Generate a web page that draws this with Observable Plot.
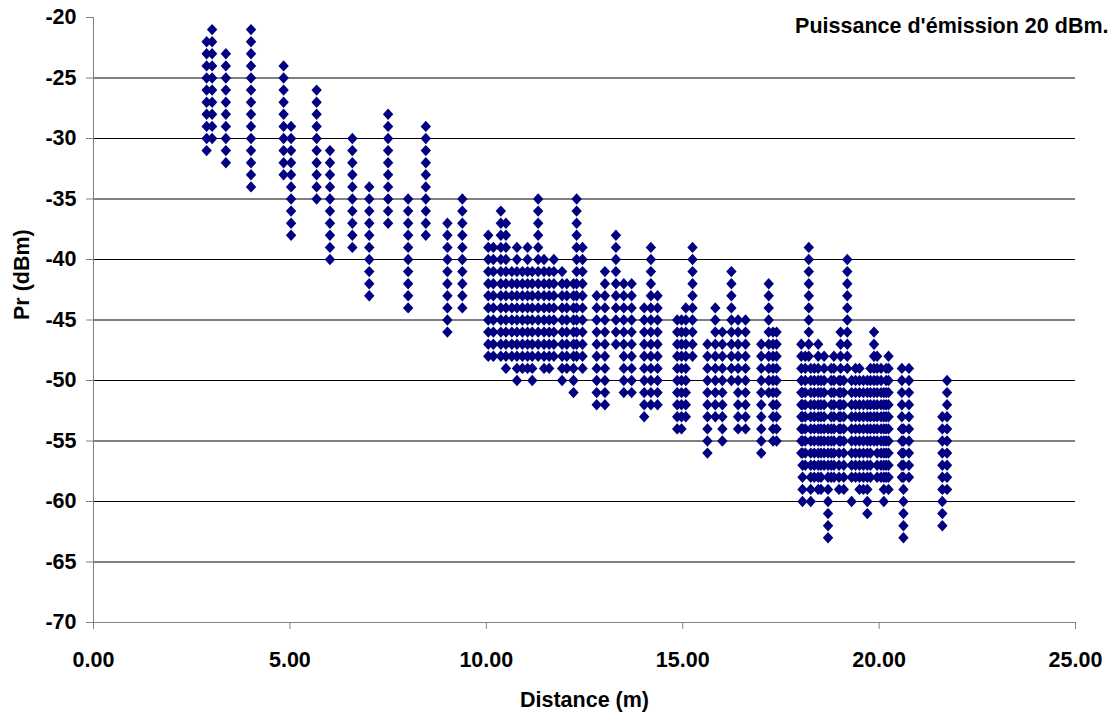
<!DOCTYPE html>
<html><head><meta charset="utf-8">
<script src="https://cdn.jsdelivr.net/npm/d3@7"></script>
<script src="https://cdn.jsdelivr.net/npm/@observablehq/plot@0.6"></script>
<style>html,body{margin:0;padding:0;background:#fff;}</style>
</head><body><div id="chart"></div>
<script>
// Distance (m) of each measurement column
const distances = [
  2.88, 3.02, 3.37, 4.01, 4.84, 5.03, 5.68, 6.02, 6.59, 7.02, 7.50, 8.01, 8.46, 9.01, 9.39,
  10.05, 10.18, 10.37, 10.50, 10.65, 10.78, 10.92, 11.05, 11.17, 11.32, 11.47, 11.60, 11.72, 11.93, 12.05, 12.22, 12.30, 12.45,
  12.81, 13.02, 13.30, 13.50, 13.70, 14.02, 14.19, 14.36,
  14.86, 14.97, 15.08, 15.25,
  15.63, 15.83, 16.01, 16.24, 16.41, 16.60,
  17.00, 17.19, 17.30, 17.39,
  18.02, 18.05, 18.21, 18.26, 18.45, 18.60, 18.70, 18.85, 18.98, 19.02, 19.19, 19.30, 19.50, 19.70, 19.87, 19.95, 20.05, 20.12, 20.24, 20.58, 20.62, 20.76,
  21.61, 21.73,
  18.12, 18.35, 18.52, 18.78, 19.10, 19.40, 19.60, 19.78, 20.18
];
// Received power levels (dBm) read in each column
const levels = [
  [-22,-23,-24,-25,-26,-27,-28,-29,-30,-31],
  [-21,-22,-23,-24,-25,-26,-27,-28,-29,-30],
  [-23,-24,-25,-26,-27,-28,-29,-30,-31,-32],
  [-21,-22,-23,-24,-25,-26,-27,-28,-29,-30,-31,-32,-33,-34],
  [-24,-25,-26,-27,-28,-29,-30,-31,-32,-33],
  [-29,-30,-31,-32,-33,-34,-35,-36,-37,-38],
  [-26,-27,-28,-29,-30,-31,-32,-33,-34,-35],
  [-31,-32,-33,-34,-35,-36,-37,-38,-39,-40],
  [-30,-31,-32,-33,-34,-35,-36,-37,-38,-39],
  [-34,-35,-36,-37,-38,-39,-40,-41,-42,-43],
  [-28,-29,-30,-31,-32,-33,-34,-35,-36,-37],
  [-35,-36,-37,-38,-39,-40,-41,-42,-43,-44],
  [-29,-30,-31,-32,-33,-34,-35,-36,-37,-38],
  [-37,-38,-39,-40,-41,-42,-43,-44,-45,-46],
  [-35,-36,-37,-38,-39,-40,-41,-42,-43,-44],
  [-38,-39,-40,-41,-42,-43,-44,-45,-46,-47,-48],
  [-39,-40,-41,-42,-43,-44,-45,-46,-47,-48],
  [-36,-37,-38,-39,-40,-41,-42,-43,-44,-45,-46,-47,-48],
  [-37,-38,-39,-40,-41,-42,-43,-44,-45,-46,-47,-48,-49],
  [-41,-42,-43,-44,-45,-46,-47,-48],
  [-39,-40,-41,-42,-43,-44,-45,-46,-47,-48,-49,-50],
  [-41,-42,-43,-44,-45,-46,-47,-48,-49],
  [-39,-40,-41,-42,-43,-44,-45,-46,-47,-48,-49],
  [-41,-42,-43,-44,-45,-46,-47,-48,-49,-50],
  [-35,-36,-37,-38,-39,-40,-41,-42,-43,-44,-45,-46,-47,-48],
  [-40,-41,-42,-43,-44,-45,-46,-47,-48,-49],
  [-41,-42,-43,-44,-45,-46,-47,-48,-49],
  [-40,-41,-42,-43,-44,-45,-46,-47,-48],
  [-41,-42,-43,-44,-45,-46,-47,-48,-49,-50],
  [-42,-43,-44,-45,-46,-47,-48,-49],
  [-42,-43,-44,-45,-46,-47,-48,-49,-50,-51],
  [-35,-36,-37,-38,-39,-40,-41,-42,-43,-44,-45,-46,-47,-48],
  [-39,-40,-41,-42,-43,-44,-45,-46,-47,-48,-49],
  [-43,-44,-45,-46,-47,-48,-49,-50,-51,-52],
  [-41,-42,-43,-44,-45,-46,-47,-48,-49,-50,-51,-52],
  [-38,-39,-40,-41,-42,-43,-44,-45,-46,-47],
  [-42,-43,-44,-45,-46,-47,-48,-49,-50,-51],
  [-42,-43,-44,-45,-46,-47,-48,-49,-50,-51],
  [-44,-45,-46,-47,-48,-49,-50,-51,-52,-53],
  [-39,-40,-41,-42,-43,-44,-45,-46,-47,-48,-49,-50,-51,-52],
  [-43,-44,-45,-46,-47,-48,-49,-50,-51,-52],
  [-45,-46,-47,-48,-49,-50,-51,-52,-53,-54],
  [-45,-46,-47,-48,-49,-50,-51,-52,-53,-54],
  [-44,-45,-46,-47,-48,-49,-50,-51,-52,-53],
  [-39,-40,-41,-42,-43,-44,-45,-46,-47,-48],
  [-47,-48,-49,-50,-51,-52,-53,-54,-55,-56],
  [-44,-45,-46,-47,-48,-49,-50,-51,-52,-53],
  [-46,-47,-48,-49,-50,-51,-52,-53,-54,-55],
  [-41,-42,-43,-44,-45,-46,-47,-48,-49,-50],
  [-45,-46,-47,-48,-49,-50,-51,-52,-53,-54],
  [-45,-46,-47,-48,-49,-50,-51,-52,-53,-54],
  [-47,-48,-49,-50,-51,-52,-53,-54,-55,-56],
  [-42,-43,-44,-45,-46,-47,-48,-49,-50,-51],
  [-46,-47,-48,-49,-50,-51,-52,-53,-54,-55],
  [-46,-47,-48,-49,-50,-51,-52,-53,-54,-55],
  [-47,-48,-49,-50,-51,-52,-53,-54,-55,-56],
  [-51,-52,-53,-54,-55,-56,-57,-58,-59,-60],
  [-39,-40,-41,-42,-43,-44,-45,-46,-47,-48],
  [-49,-50,-51,-52,-53,-54,-55,-56,-57,-58,-59,-60],
  [-47,-48,-49,-50,-51,-52,-53,-54,-55,-56,-57,-58,-59],
  [-48,-49,-50,-51,-52,-53,-54,-55,-56,-57],
  [-54,-55,-56,-57,-58,-59,-60,-61,-62,-63],
  [-48,-49,-50,-51,-52,-53,-54,-55,-56,-57,-58],
  [-50,-51,-52,-53,-54,-55,-56,-57,-58,-59],
  [-46,-47,-48,-49,-50,-51,-52,-53,-54,-55],
  [-40,-41,-42,-43,-44,-45,-46,-47,-48,-49],
  [-50,-51,-52,-53,-54,-55,-56,-57,-58,-60],
  [-49,-50,-51,-52,-53,-54,-55,-56,-57,-58,-59],
  [-50,-51,-52,-53,-54,-55,-56,-57,-58,-59,-60,-61],
  [-46,-47,-48,-49,-50,-51,-52,-53,-54,-55],
  [-48,-49,-50,-51,-52,-53,-54,-55,-56,-57,-58],
  [-49,-50,-51,-52,-53,-54,-55,-56,-57,-58],
  [-51,-52,-53,-54,-55,-56,-57,-58,-59,-60],
  [-48,-49,-50,-51,-52,-53,-54,-55,-56,-57,-58,-59],
  [-49,-50,-51,-52,-53,-54,-55,-56,-57,-58],
  [-54,-55,-56,-57,-58,-59,-60,-61,-62,-63],
  [-49,-50,-51,-52,-53,-54,-55,-56,-57,-58],
  [-53,-54,-55,-56,-57,-58,-59,-60,-61,-62],
  [-50,-51,-52,-53,-54,-55,-56,-57,-58,-59],
  [-48,-49,-50,-51,-52,-53,-54,-55,-56,-57],
  [-49,-50,-51,-52,-53,-54,-55,-56,-57,-58],
  [-50,-51,-52,-53,-54,-55,-56,-57,-58,-59],
  [-49,-50,-51,-52,-53,-54,-55,-56,-57,-58],
  [-50,-51,-52,-53,-54,-55,-56,-57,-58,-59],
  [-49,-50,-51,-52,-53,-54,-55,-56,-57,-58],
  [-50,-51,-52,-53,-54,-55,-56,-57,-58,-59],
  [-49,-50,-51,-52,-53,-54,-55,-56,-57,-58],
  [-49,-50,-51,-52,-53,-54,-55,-56,-57,-58]
];
const yTicks = [-20, -25, -30, -35, -40, -45, -50, -55, -60, -65, -70];
const gridLevels = [-25, -30, -35, -40, -45, -50, -55, -60, -65];
const xTicks = [0, 5, 10, 15, 20, 25];
const xTitle = "Distance (m)";
const yTitle = "Pr (dBm)";
const note = "Puissance d'émission 20 dBm.";

const points = [];
distances.forEach((x, i) => levels[i].forEach(y => points.push({x, y})));

const diamond = {
  draw(context, size) {
    const r = Math.sqrt(size / Math.PI);
    const w = r, h = r * 1.1;
    context.moveTo(0, -h);
    context.lineTo(w, 0);
    context.lineTo(0, h);
    context.lineTo(-w, 0);
    context.closePath();
  }
};

const chart = Plot.plot({
  width: 1113,
  height: 719,
  marginLeft: 93,
  marginRight: 38,
  marginTop: 17,
  marginBottom: 97,
  style: {fontFamily: "'Liberation Sans', Arial, Helvetica, sans-serif", fontSize: "21.5px", fontWeight: "bold", background: "white", color: "black"},
  x: {domain: [0, 25]},
  y: {domain: [-70, -20]},
  marks: [
    Plot.ruleY(gridLevels, {stroke: "#000", strokeWidth: 1}),
    Plot.ruleX([0], {stroke: "#808080"}),
    Plot.ruleY([-70], {stroke: "#808080"}),
    Plot.axisY({ticks: yTicks, tickSize: 7, tickPadding: 10, tickFormat: d => String(d), label: null, stroke: "#808080", fill: "black"}),
    Plot.axisX({ticks: xTicks, tickSize: 7, tickPadding: 22, tickFormat: d => d.toFixed(2), label: null, stroke: "#808080", fill: "black"}),
    Plot.dot(points, {x: "x", y: "y", symbol: diamond, r: 5.2, fill: "#000080", stroke: "none"}),
    Plot.text([xTitle], {frameAnchor: "bottom", lineAnchor: "middle", dy: 78, text: d => d}),
    Plot.text([yTitle], {frameAnchor: "left", lineAnchor: "middle", dx: -71, rotate: -90, text: d => d}),
    Plot.text([note], {frameAnchor: "top-right", lineAnchor: "middle", textAnchor: "end", dx: 33, dy: 9, text: d => d})
  ]
});
document.getElementById("chart").appendChild(chart);
</script>
</body></html>
